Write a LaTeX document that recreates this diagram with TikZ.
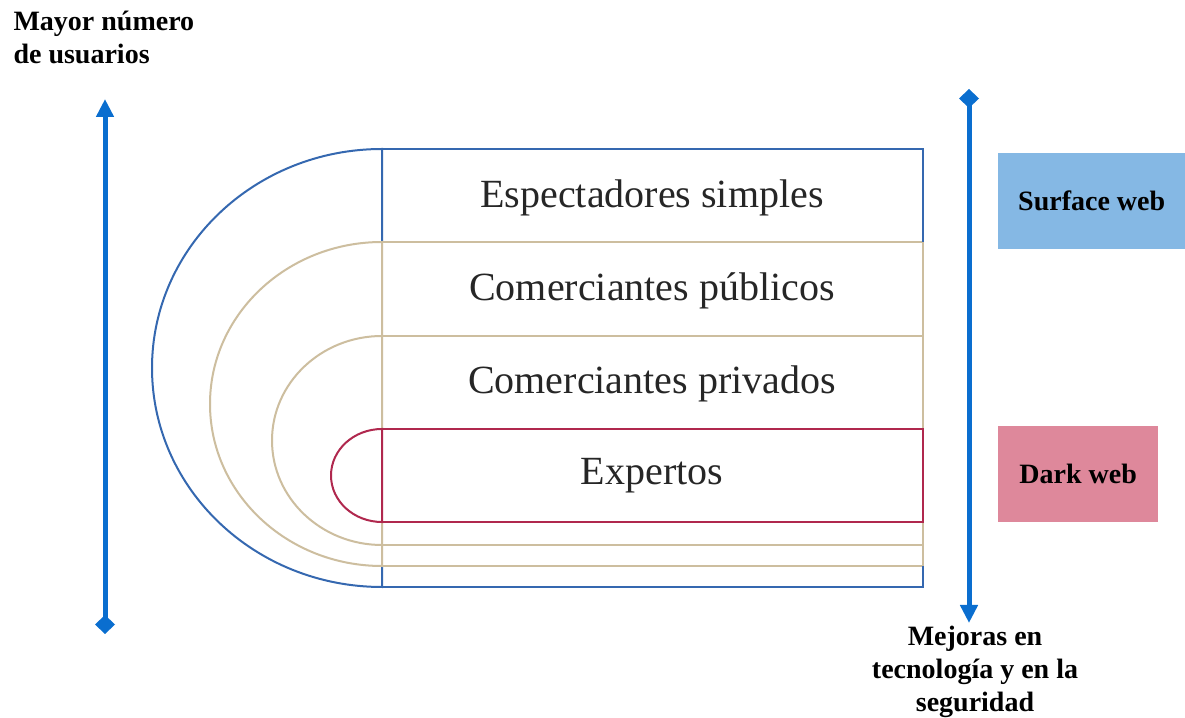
\documentclass[tikz,border=0pt]{standalone}
\usepackage{fontspec}
\setmainfont{Liberation Serif}
\usetikzlibrary{arrows.meta}
\definecolor{outerblue}{HTML}{3568B0}
\definecolor{beige}{HTML}{CDBE9F}
\definecolor{wine}{HTML}{B0284E}
\definecolor{arrowblue}{HTML}{0A6ECF}
\definecolor{surf}{HTML}{85B8E4}
\definecolor{dark}{HTML}{DE889B}
\tikzset{
  layer/.style={line width=2pt, fill=white},
  layertext/.style={font=\fontsize{40}{46}\selectfont, text=black!85},
  boldlabel/.style={font=\bfseries\fontsize{28}{33}\selectfont, align=center},
  webbox/.style={font=\bfseries\fontsize{28}{32}\selectfont, inner sep=0pt},
  bigarrow/.style={line width=5pt, arrowblue}
}
\begin{document}
\begin{tikzpicture}[x=1pt,y=1pt]
\useasboundingbox (0,0) rectangle (1185,717);
% nested layers
\draw[layer, draw=outerblue] (382,568) -- (923,568) -- (923,130) -- (382,130) -- cycle;
\draw[layer, draw=outerblue] (382,130) arc[start angle=-90, end angle=-270, x radius=230, y radius=219] -- cycle;
\draw[layer, draw=beige] (382,475) -- (923,475) -- (923,151) -- (382,151) -- cycle;
\draw[layer, draw=beige] (382,151) arc[start angle=-90, end angle=-270, x radius=172, y radius=162] -- cycle;
\draw[layer, draw=beige] (382,381) -- (923,381) -- (923,172) -- (382,172) -- cycle;
\draw[layer, draw=beige] (382,172) arc[start angle=-90, end angle=-270, x radius=110, y radius=104.5] -- cycle;
\draw[layer, draw=wine] (382,288) -- (923,288) -- (923,195) -- (382,195) -- cycle;
\draw[layer, draw=wine] (382,195) arc[start angle=-90, end angle=-270, x radius=51, y radius=46.5] -- cycle;
\draw[beige, line width=2pt] (382,475) -- (923,475);
\draw[outerblue, line width=2pt] (382,568) -- (923,568) -- (923,475);
\draw[outerblue, line width=2pt] (382,130) -- (923,130) -- (923,151);
% texts
\node[layertext] (t1) at (652,519) {Espectadores simples};
\node[layertext] (t2) at (652,426) {Comerciantes públicos};
\node[layertext] (t3) at (652,333) {Comerciantes privados};
\node[layertext] (t4) at (652,241) {Expertos};
% arrows
\coordinate (la) at (105,83);
\coordinate (lb) at (105,618);
\coordinate (ra) at (969,628);
\coordinate (rb) at (969,94);
\draw[bigarrow, {Diamond[width=20pt,length=19pt]}-{Triangle[width=17pt,length=18pt]}] (la) -- (lb);
\draw[bigarrow, {Diamond[width=20pt,length=19pt]}-{Triangle[width=17pt,length=18pt]}] (ra) -- (rb);
% labels
\node[boldlabel, align=left, anchor=north west] (top) at (10,709) {Mayor número\\de usuarios};
\node[boldlabel, anchor=north] (bot) at (975,94) {Mejoras en\\tecnología y en la\\seguridad};
% boxes
\node[webbox, fill=surf, minimum width=187pt, minimum height=96pt, anchor=south west] (sw) at (998,468) {Surface web};
\node[webbox, fill=dark, minimum width=160pt, minimum height=96pt, anchor=south west] (dw) at (998,195) {Dark web};
\end{tikzpicture}
\end{document}
